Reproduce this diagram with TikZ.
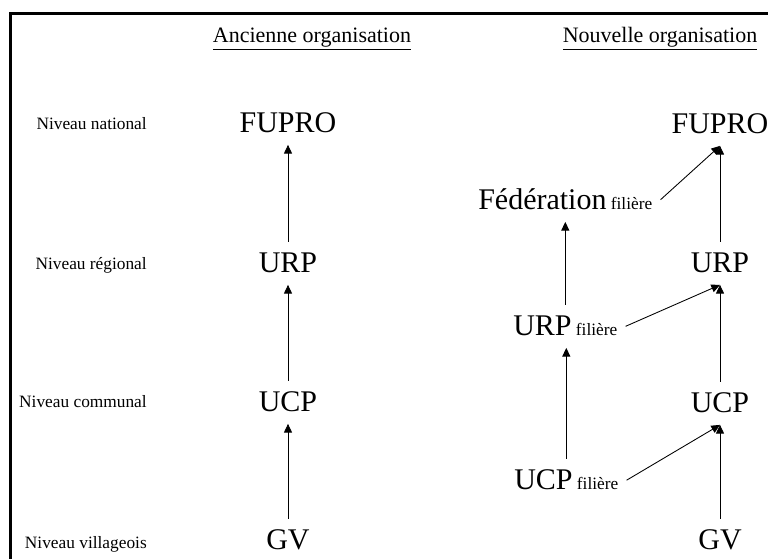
\documentclass[tikz,border=0pt]{standalone}
\usepackage{fontspec}
\setmainfont{Liberation Serif}
\usetikzlibrary{arrows.meta}
\tikzset{
 org/.style={font=\fontsize{22.5}{26}\selectfont,inner xsep=6pt,inner ysep=8.5pt,anchor=base},
 niv/.style={font=\fontsize{13}{15}\selectfont,anchor=base east,inner sep=0pt},
 titre/.style={font=\fontsize{16.5}{19}\selectfont,anchor=base},
 fl/.style={-{Triangle[length=6.5pt,width=6pt]},line width=0.65pt}
}
\newcommand{\filiere}{{\fontsize{13}{15}\selectfont~filière}}

\begin{document}
\begin{tikzpicture}[x=0.75pt,y=-0.75pt]
 \useasboundingbox (0,0) rectangle (768,559);
 \draw[line width=2.25pt] (10.5,575) -- (10.5,13.5) -- (785,13.5);
 \node[titre] (ancienne) at (312,43) {\underline{Ancienne organisation}};
 \node[titre] (nouvelle) at (660,43) {\underline{Nouvelle organisation}};
 \foreach \n/\t/\y in {nat/national/130,reg/régional/270,com/communal/408,vil/villageois/549}
  \node[niv] (\n) at (147,\y) {Niveau \t};
 % ancienne organisation
 \foreach \n/\t/\y in {fuproA/FUPRO/133,urpA/URP/273,ucpA/UCP/412,gvA/GV/550}
  \node[org] (\n) at (288,\y) {\t};
 \foreach \a/\b in {urpA/fuproA,ucpA/urpA,gvA/ucpA} \draw[fl] (\a) -- (\b);
 % nouvelle organisation
 \foreach \n/\t/\y in {fuproB/FUPRO/134,urpB/URP/273,ucpB/UCP/413,gvB/GV/550}
  \node[org] (\n) at (720,\y) {\t};
 \foreach \a/\b in {urpB/fuproB,ucpB/urpB,gvB/ucpB} \draw[fl] (\a) -- (\b);
 \node[org,anchor=base west] (fedF) at (470,210) {Fédération\filiere};
 \node[org,anchor=base west] (urpF) at (505,336) {URP\filiere};
 \node[org,anchor=base west] (ucpF) at (506,490) {UCP\filiere};
 \draw[fl] (urpF.north) -- (urpF.north |- fedF.south);
 \draw[fl] (ucpF.north) -- (ucpF.north |- urpF.south);
 \draw[fl] (fedF.east) -- (fuproB.south);
 \draw[fl] (urpF.east) -- (urpB.south);
 \draw[fl] (ucpF.east) -- (ucpB.south);
\end{tikzpicture}
\end{document}
